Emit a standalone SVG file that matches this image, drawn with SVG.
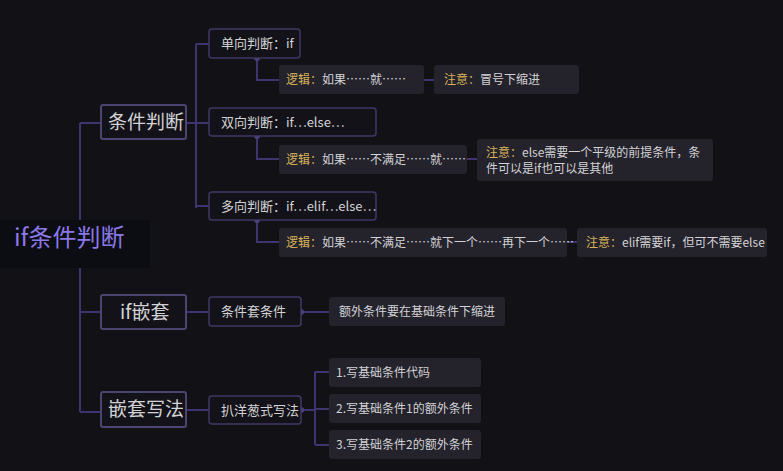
<svg xmlns="http://www.w3.org/2000/svg" width="783" height="471" viewBox="0 0 783 471">
<style>
text{font-family:"Noto Sans CJK SC","Noto Sans",sans-serif;fill:#d2d2d6}
.l1 rect{fill:#131218;stroke:#4b4572;stroke-width:2}
.l1 text{font-size:19px}
.l2 rect{fill:#131218;stroke:#3f3866;stroke-width:1.5}
.l2 text{font-size:13px}
.l3 rect{fill:#24222b}
.l3 text{font-size:12px}
.y{fill:#d8b25a}
.c path{fill:none;stroke:#3d3470;stroke-width:2}
.c circle{fill:#4a4380}
</style>
<rect width="783" height="471" fill="#121116"/>
<g class="c">
<path d="M80 123V412M80 123H101M80 312H101M80 412H101"/>
<path d="M186 123H209M196 44V208M196 44H209M196 206H209"/>
<path d="M257 58V80H279M424 80H434"/>
<path d="M257 136V159H279M467 159H477"/>
<path d="M257 220V242H279M567 242H577"/>
<path d="M186 312H209M301 312H329"/>
<path d="M186 410H209M301 410H315M315 372V445M315 372H329M315 409H329M315 445H329"/>
<circle cx="257" cy="58" r="3"/>
<circle cx="257" cy="136" r="3"/>
<circle cx="257" cy="220" r="3"/>
<circle cx="301" cy="312" r="3"/>
<circle cx="301" cy="410" r="3"/>
</g>
<g id="root"><rect x="0" y="220" width="150" height="48" fill="#0c0d13"/><text x="14" y="246" style="font-size:24px;fill:#8a78e6">if条件判断</text></g>
<g id="n1" class="l1"><rect x="101" y="105" width="85" height="34" rx="2"/><text x="108" y="129">条件判断</text></g>
<g id="n2" class="l1"><rect x="101" y="295" width="85" height="34" rx="2"/><text x="120" y="319">if嵌套</text></g>
<g id="n3" class="l1"><rect x="101" y="392" width="85" height="35" rx="2"/><text x="108" y="416">嵌套写法</text></g>
<g id="n11" class="l2"><rect x="209" y="29" width="91" height="29" rx="3"/><text x="221" y="48">单向判断：if</text></g>
<g id="n12" class="l2"><rect x="209" y="108" width="167" height="28" rx="3"/><text x="221" y="127">双向判断：if…else…</text></g>
<g id="n13" class="l2"><rect x="209" y="192" width="167" height="28" rx="3"/><text x="221" y="211">多向判断：if…elif…else…</text></g>
<g id="n21" class="l2"><rect x="209" y="297" width="92" height="29" rx="3"/><text x="221" y="316">条件套条件</text></g>
<g id="n31" class="l2"><rect x="209" y="396" width="92" height="28" rx="3"/><text x="221" y="415">扒洋葱式写法</text></g>
<g id="n111" class="l3"><rect x="279" y="65" width="145" height="29" rx="3"/><text x="286" y="84"><tspan class="y">逻辑：</tspan>如果……就……</text></g>
<g id="n112" class="l3"><rect x="434" y="65" width="145" height="29" rx="3"/><text x="444" y="84"><tspan class="y">注意：</tspan>冒号下缩进</text></g>
<g id="n121" class="l3"><rect x="279" y="145" width="188" height="29" rx="3"/><text x="286" y="164"><tspan class="y">逻辑：</tspan>如果……不满足……就……</text></g>
<g id="n122" class="l3"><rect x="477" y="139" width="236" height="42" rx="3"/><text x="486" y="157"><tspan class="y">注意：</tspan>else需要一个平级的前提条件，条</text><text x="486" y="173">件可以是if也可以是其他</text></g>
<g id="n131" class="l3"><rect x="279" y="228" width="288" height="29" rx="3"/><text x="286" y="247"><tspan class="y">逻辑：</tspan>如果……不满足……就下一个……再下一个……</text></g>
<g id="n132" class="l3"><rect x="577" y="228" width="190" height="29" rx="3"/><text x="586" y="247"><tspan class="y">注意：</tspan>elif需要if，但可不需要else</text></g>
<g id="n211" class="l3"><rect x="329" y="297" width="176" height="29" rx="3"/><text x="339" y="316">额外条件要在基础条件下缩进</text></g>
<g id="n311" class="l3"><rect x="329" y="358" width="152" height="29" rx="3"/><text x="336" y="377">1.写基础条件代码</text></g>
<g id="n312" class="l3"><rect x="329" y="394" width="152" height="29" rx="3"/><text x="336" y="413">2.写基础条件1的额外条件</text></g>
<g id="n313" class="l3"><rect x="329" y="430" width="152" height="29" rx="3"/><text x="336" y="449">3.写基础条件2的额外条件</text></g>
</svg>
